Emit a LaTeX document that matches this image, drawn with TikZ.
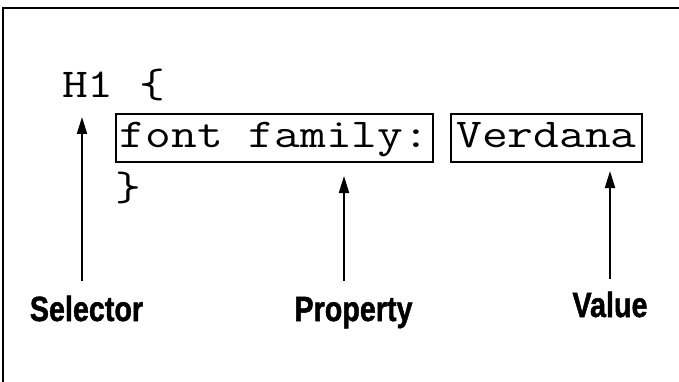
\documentclass[tikz,border=0pt]{standalone}
\usepackage{fontspec}
\setmainfont{Liberation Sans}
\newfontface\labfont[FakeBold=1.5]{Liberation Sans Bold}
\usetikzlibrary{arrows.meta}
\newcommand{\cd}[1]{\scalebox{1.22}[1]{\ttfamily\fontsize{41}{41}\selectfont #1}}
\begin{document}
\begin{tikzpicture}[x=1pt,y=1pt,
  code/.style={inner sep=0pt},
  codebox/.style={code, draw, line width=2pt, text height=34pt, text depth=14pt, anchor=base},
  lab/.style={font=\labfont\fontsize{35}{35}\selectfont, inner sep=0pt, anchor=base},
  arr/.style={line width=2pt, -{Triangle[length=17pt,width=10pt]}}]
\useasboundingbox (0,0) rectangle (679,-382);
% frame
\draw[line width=2.5pt] (3,-384) -- (3,-8) -- (681,-8);
% code
\node[code, anchor=base west] (h1) at (62,-97.5) {\cd{H1 \{}};
\node[codebox, minimum width=317pt] (prop) at (274.5,-148) {\cd{font family:}};
\node[codebox, minimum width=191pt] (val) at (546.5,-148) {\cd{Verdana}};
\node[code, anchor=base west] (close) at (115,-200) {\cd{\}}};
% labels
\node[lab] (sel) at (86.5,-321) {\scalebox{0.82}[1]{Selector}};
\node[lab] (plab) at (353.5,-321) {\scalebox{0.82}[1]{Property}};
\node[lab] (vlab) at (610,-317) {\scalebox{0.82}[1]{Value}};
% arrows
\coordinate (selTip) at (82,-117);
\coordinate (propTip) at (344,-176);
\coordinate (valTip) at (610,-171);
\draw[arr] (selTip |- 0,-281) -- (selTip);
\draw[arr] (propTip |- 0,-281) -- (propTip);
\draw[arr] (valTip |- 0,-279) -- (valTip);
\end{tikzpicture}
\end{document}
